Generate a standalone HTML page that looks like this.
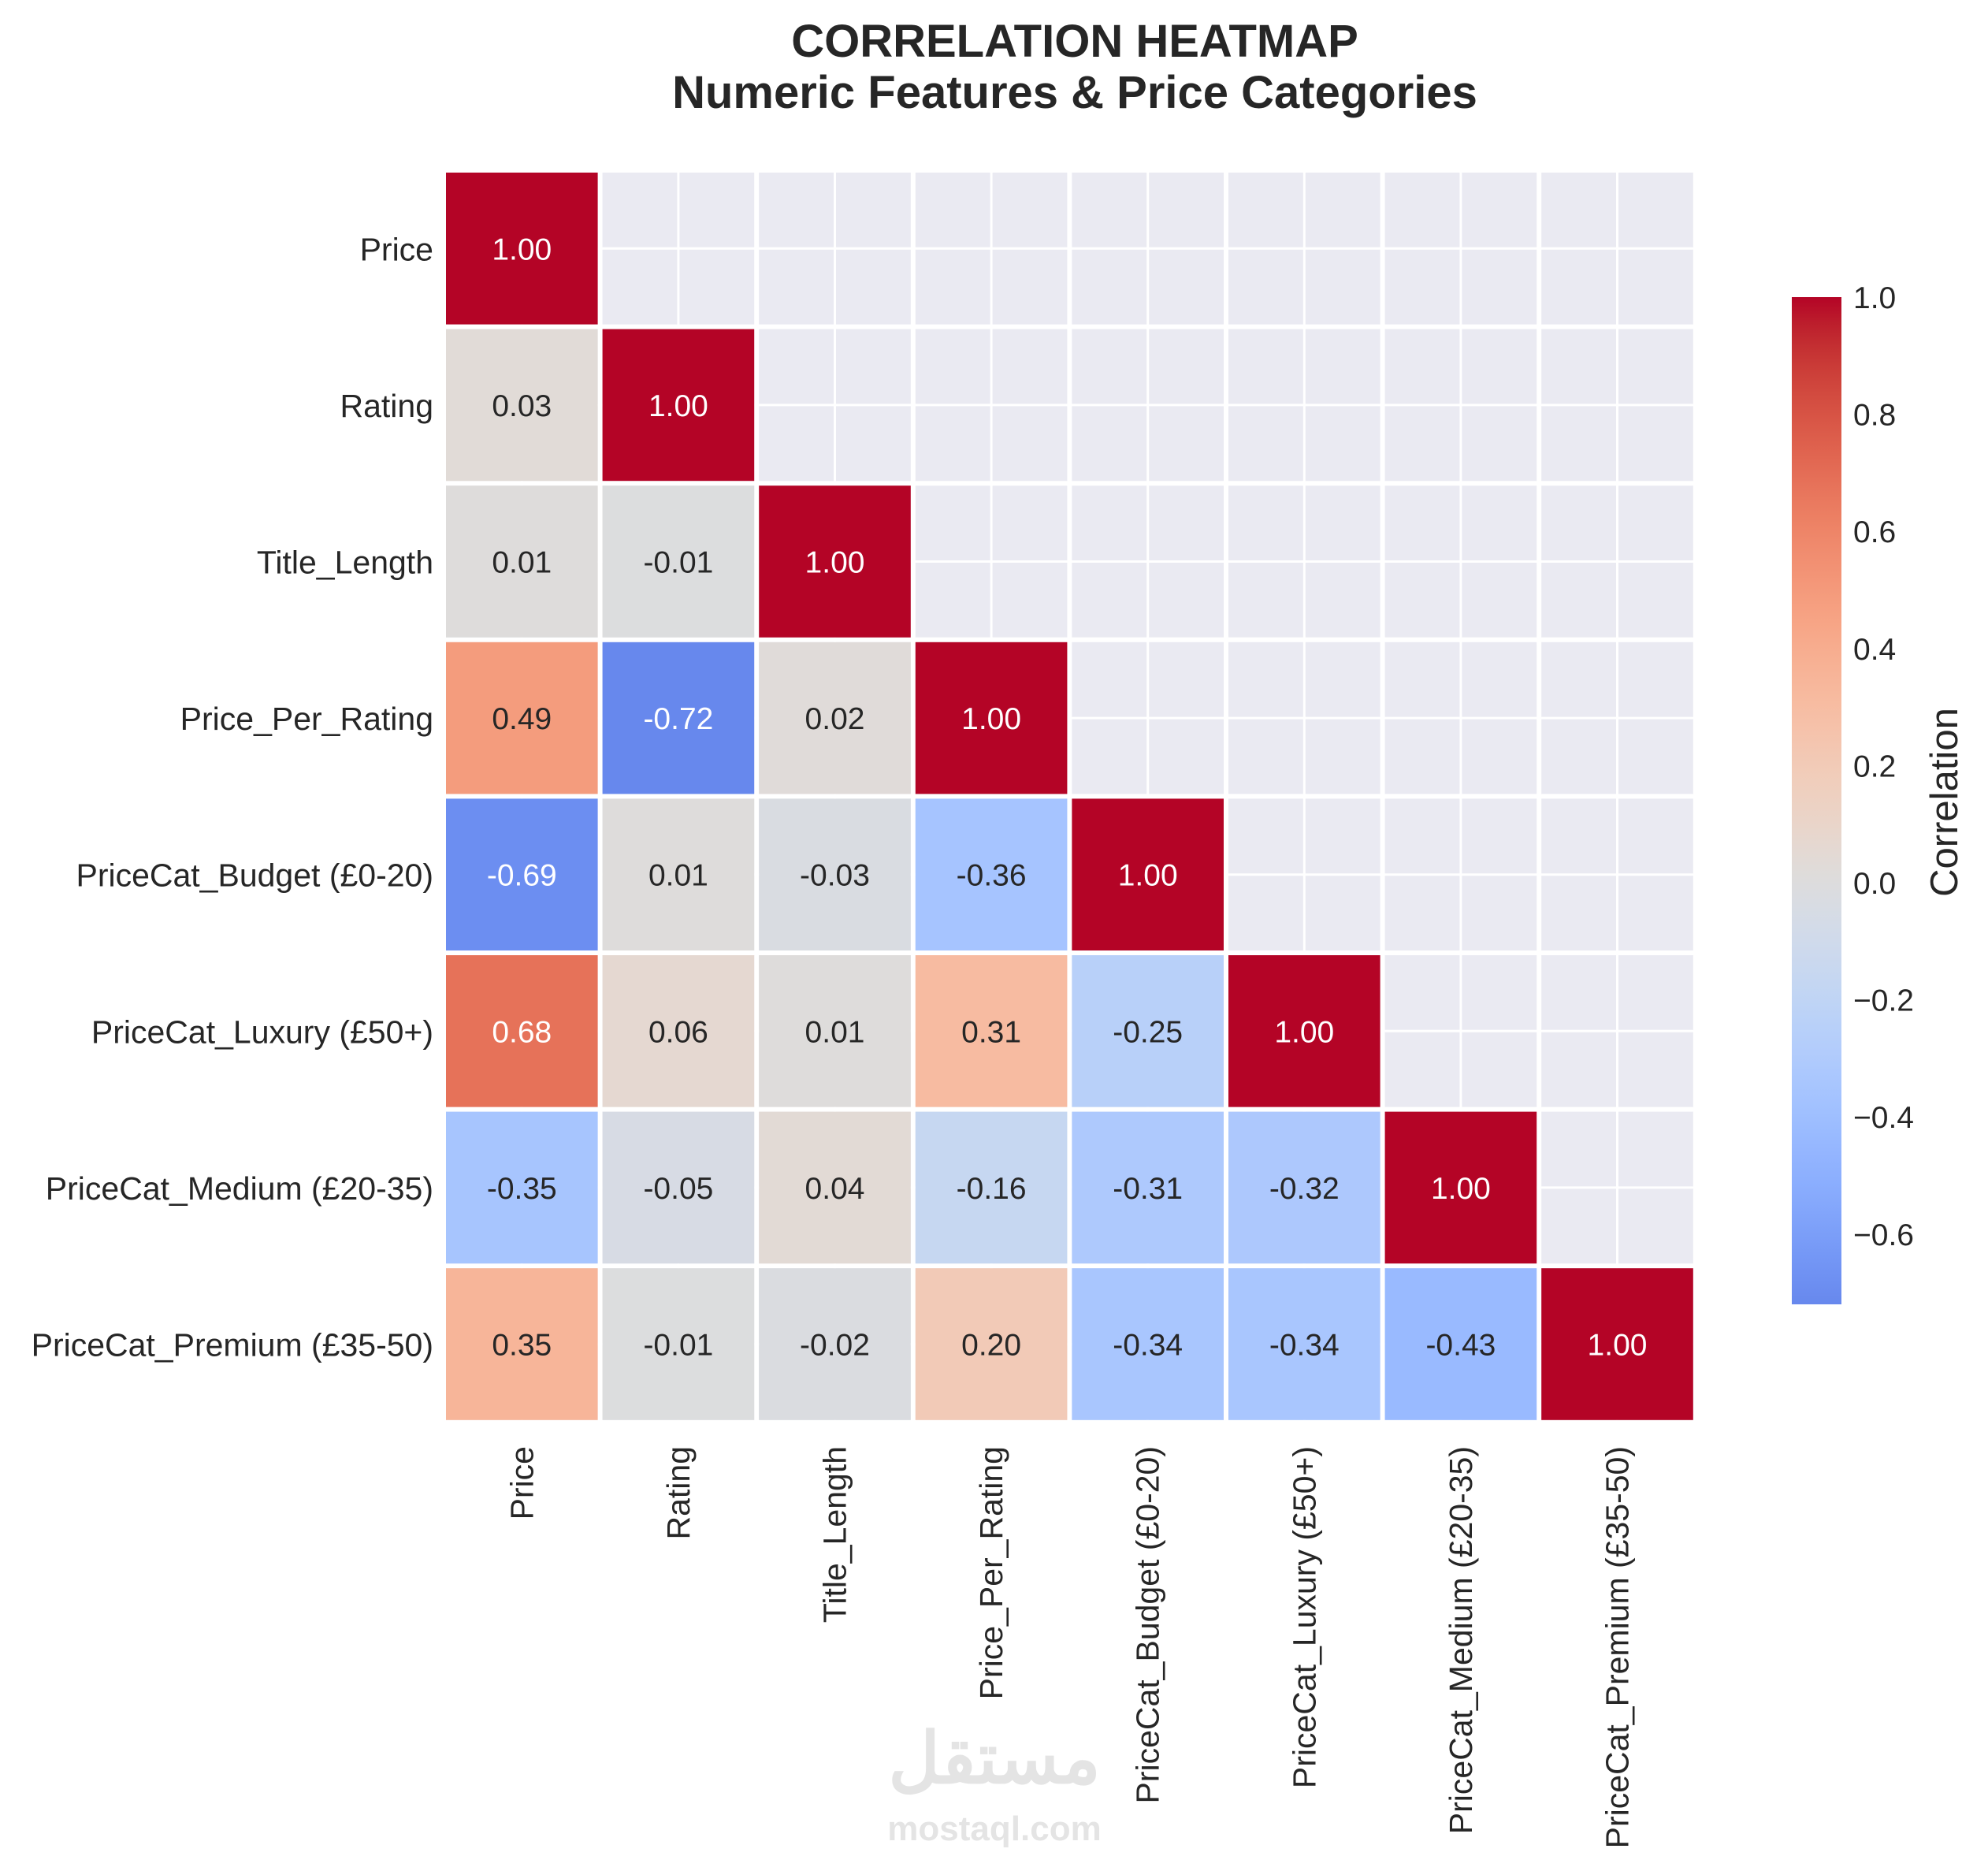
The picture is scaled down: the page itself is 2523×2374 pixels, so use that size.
<!DOCTYPE html>
<html><head><meta charset="utf-8"><style>html,body{margin:0;padding:0;background:#fff}svg text{font-family:"Liberation Sans",sans-serif}</style></head>
<body>
<svg id="chart" xmlns="http://www.w3.org/2000/svg" width="2523" height="2369" viewBox="0 0 2523 2369">
<rect width="2523" height="2369" fill="#fff"/>
<text x="1364" y="72" text-anchor="middle" font-size="58" font-weight="bold" fill="#262626">CORRELATION HEATMAP</text>
<text x="1364" y="137" text-anchor="middle" font-size="58" font-weight="bold" fill="#262626">Numeric Features &amp; Price Categories</text>
<g id="plot"></g>
<g id="cbar"></g>
<text x="1262" y="2262" text-anchor="middle" font-size="90" font-weight="bold" fill="#e4e4e4" font-family="DejaVu Sans, sans-serif">مستقل</text>
<text x="1262" y="2335" text-anchor="middle" font-size="44" font-weight="bold" fill="#e4e4e4">mostaql.com</text>
</svg>
<script>
const labels = ["Price","Rating","Title_Length","Price_Per_Rating","PriceCat_Budget (£0-20)","PriceCat_Luxury (£50+)","PriceCat_Medium (£20-35)","PriceCat_Premium (£35-50)"];
const row0 = [1.00];
const row1 = [0.03, 1.00];
const row2 = [0.01, -0.01, 1.00];
const row3 = [0.49, -0.72, 0.02, 1.00];
const row4 = [-0.69, 0.01, -0.03, -0.36, 1.00];
const row5 = [0.68, 0.06, 0.01, 0.31, -0.25, 1.00];
const row6 = [-0.35, -0.05, 0.04, -0.16, -0.31, -0.32, 1.00];
const row7 = [0.35, -0.01, -0.02, 0.20, -0.34, -0.34, -0.43, 1.00];
const rows = [row0,row1,row2,row3,row4,row5,row6,row7];
const cbTicks = [1.0,0.8,0.6,0.4,0.2,0.0,-0.2,-0.4,-0.6];

const NS="http://www.w3.org/2000/svg";
const CW=[[59,76,192],[68,90,204],[77,104,215],[87,117,225],[98,130,234],[108,142,241],[119,154,247],[130,165,251],[141,176,254],[152,185,255],[163,194,255],[174,201,253],[184,208,249],[194,213,244],[204,217,238],[213,219,230],[221,221,221],[229,216,209],[236,211,197],[241,204,185],[245,196,173],[247,187,160],[247,177,148],[247,166,135],[244,154,123],[241,141,111],[236,127,99],[229,112,88],[222,96,77],[213,80,66],[203,62,56],[192,40,47],[180,4,38]];
function color(v){let t=Math.max(0,Math.min(1,(v+1)/2))*32;let i=Math.min(31,Math.floor(t)),f=t-i;const a=CW[i],b=CW[i+1];return "rgb("+a.map((c,k)=>Math.round(c+(b[k]-c)*f)).join(",")+")";}
function mk(tag,attrs,parent){const e=document.createElementNS(NS,tag);for(const k in attrs)e.setAttribute(k,attrs[k]);parent.appendChild(e);return e;}

const X0=563,Y0=216,C=198.6,n=labels.length;
const xS=i=>X0+i*C, yS=i=>Y0+i*C;
const plot=document.getElementById('plot');
const bg=mk('rect',{x:X0,y:Y0,width:C*n,height:C*n,fill:'#eaeaf2'},plot);


for(let i=0;i<=2*n;i++){
  const p=X0+i*C/2, w=(i%2===0)?6:3;
  mk('line',{x1:p,y1:Y0,x2:p,y2:Y0+C*n,stroke:'#fff','stroke-width':w},plot);
  const q=Y0+i*C/2;
  mk('line',{x1:X0,y1:q,x2:X0+C*n,y2:q,stroke:'#fff','stroke-width':w},plot);
}
rows.forEach((r,ri)=>{
  r.forEach((v,ci)=>{
    const rc=mk('rect',{x:xS(ci)+3,y:yS(ri)+3,width:C-6,height:C-6,fill:color(v)},plot);
    
    
    const t=mk('text',{x:xS(ci)+C/2,y:yS(ri)+C/2+14,'text-anchor':'middle','font-size':39,fill:Math.abs(v)>0.6?'#fff':'#262626'},plot);
    t.textContent=v.toFixed(2);
    
    
  });
});
labels.forEach((l,i)=>{
  const t=mk('text',{x:550,y:yS(i)+C/2+15,'text-anchor':'end','font-size':41,fill:'#262626'},plot);
  t.textContent=l;
  
  
  const cx=xS(i)+C/2+14, ty=1835;
  const u=mk('text',{x:cx,y:ty,'text-anchor':'end','font-size':41,fill:'#262626',transform:'rotate(-90 '+cx+' '+ty+')'},plot);
  u.textContent=l;
  
  
});

// colorbar
const cb=document.getElementById('cbar');
const vmax=1, vmin=-0.72, CBX=2274, CBW=63, CBT=377, CBB=1655;
const cy=v=>CBT+(vmax-v)/(vmax-vmin)*(CBB-CBT);
const defs=mk('defs',{},cb);
const g=mk('linearGradient',{id:'cg',x1:0,y1:0,x2:0,y2:1},defs);
for(let i=0;i<=40;i++){const v=vmax-(vmax-vmin)*i/40;mk('stop',{offset:(i/40),'stop-color':color(v)},g);}
const cr=mk('rect',{x:CBX,y:CBT,width:CBW,height:CBB-CBT,fill:'url(#cg)'},cb);


cbTicks.forEach(v=>{
  const t=mk('text',{x:2352,y:cy(v)+14,'font-size':39,fill:'#262626'},cb);
  t.textContent=(v<0?'\u2212':'')+Math.abs(v).toFixed(1);
  
  
});
const ct=mk('text',{x:2484,y:1018,'text-anchor':'middle','font-size':49,fill:'#262626',transform:'rotate(-90 2484 1018)'},cb);
ct.textContent='Correlation';


</script>
</body></html>
